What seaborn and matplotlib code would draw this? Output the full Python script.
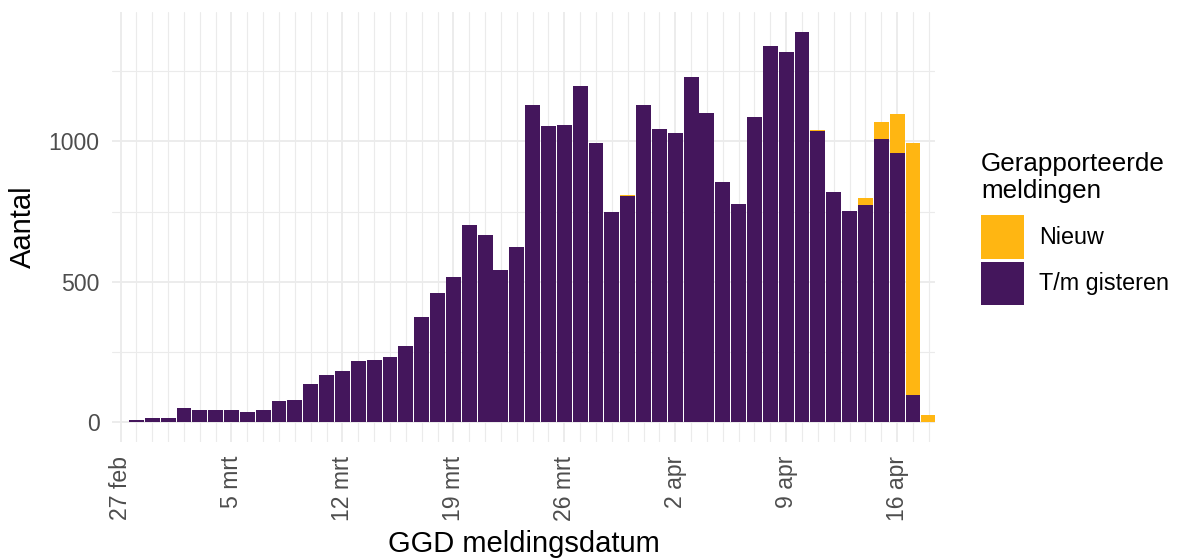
import numpy as np
import pandas as pd
import matplotlib
matplotlib.use("Agg")
import matplotlib.pyplot as plt
from matplotlib.patches import Patch
import seaborn as sns

# ---- data ----
dagen = pd.date_range("2020-02-27", "2020-04-18", freq="D")
tm_gisteren = [3, 7, 15, 15, 50, 43, 43, 43, 36, 46, 75, 79,
               138, 170, 184, 220, 223, 234, 273, 376, 461, 518, 702, 667, 543, 624,
               1128, 1053, 1057, 1195, 993, 748, 805, 1128, 1043, 1028, 1227, 1099, 855, 777, 1085,
               1340, 1316, 1387, 1035, 819, 752, 773, 1007, 957, 99, 0]
nieuw = [0, 0, 0, 0, 0, 0, 0, 0, 0, 0, 0, 0,
         0, 0, 0, 0, 0, 0, 0, 0, 0, 0, 0, 0, 0, 0,
         0, 0, 0, 0, 0, 0, 4, 0, 0, 0, 0, 0, 0, 0, 0,
         0, 0, 3, 4, 0, 0, 25, 60, 139, 894, 25]
tick_dates = ["2020-02-27", "2020-03-05", "2020-03-12", "2020-03-19",
              "2020-03-26", "2020-04-02", "2020-04-09", "2020-04-16"]
tick_labels = ["27 feb", "5 mrt", "12 mrt", "19 mrt", "26 mrt", "2 apr", "9 apr", "16 apr"]
y_major = [0, 500, 1000]
y_minor = [250, 750, 1250]
series_labels = ["Nieuw", "T/m gisteren"]
legend_title = "Gerapporteerde\nmeldingen"

C_NIEUW = "#FFB612"
C_OUD = "#44165C"
GRID = "#EBEBEB"

df = pd.DataFrame({
    "dag": dagen.strftime("%Y-%m-%d"),
    "tm_gisteren": tm_gisteren,
    "nieuw": nieuw,
})
df["totaal"] = df["tm_gisteren"] + df["nieuw"]

sns.set_theme(style="white")
plt.rcParams["font.family"] = ["Liberation Sans", "DejaVu Sans"]
plt.rcParams["text.color"] = "black"

fig = plt.figure(figsize=(11.77, 5.58), dpi=100)
W, H = 1177, 558
L, R, T, B = 112, 935, 12, 442
ax = fig.add_axes([L / W, 1 - B / H, (R - L) / W, (B - T) / H])

order = list(df["dag"])
sns.barplot(data=df, x="dag", y="totaal", order=order, color=C_NIEUW,
            saturation=1, width=0.94, linewidth=0, ax=ax)
sns.barplot(data=df, x="dag", y="tm_gisteren", order=order, color=C_OUD,
            saturation=1, width=0.94, linewidth=0, ax=ax)

# axes / scales
ax.set_xlim(-0.54, 51.39)
ax.set_ylim(-69.5, 1459.5)
pos = [order.index(d) for d in tick_dates]
ax.set_xticks(pos, labels=tick_labels)
ax.set_xticks([i for i in range(len(order)) if i not in pos], minor=True)
ax.set_yticks(y_major, labels=[str(v) for v in y_major])
ax.set_yticks(y_minor, minor=True)
ax.set_xlabel("")
ax.set_ylabel("")

ax.set_axisbelow(True)
ax.grid(which="major", color=GRID, linewidth=1.3)
ax.grid(which="minor", color=GRID, linewidth=0.8)
for s in ax.spines.values():
    s.set_visible(False)

ax.tick_params(axis="both", which="both", length=0)
ax.tick_params(axis="x", which="major", labelsize=16.6, labelcolor="#4D4D4D",
               rotation=90, pad=10)
ax.tick_params(axis="y", which="major", labelsize=16.6, labelcolor="#4D4D4D", pad=9)

# axis titles
fig.text((L + R) / 2 / W, 1 - 544 / H, "GGD meldingsdatum", ha="center", va="center",
         fontsize=21, color="black")
fig.text(22.5 / W, 1 - (T + B) / 2 / H, "Aantal", ha="center", va="center",
         rotation=90, fontsize=21, color="black")

# legend
handles = [Patch(facecolor=C_NIEUW, edgecolor="none"),
           Patch(facecolor=C_OUD, edgecolor="none")]
leg = fig.legend(handles, series_labels, title=legend_title,
                 loc="upper left", bbox_to_anchor=(981 / W, 1 - 152 / H),
                 bbox_transform=fig.transFigure, frameon=False,
                 fontsize=16.8, title_fontsize=18.7, borderpad=0, borderaxespad=0,
                 handlelength=1.85, handleheight=2.47, labelspacing=0.13,
                 handletextpad=0.64, alignment="left", labelcolor="black")
leg.get_title().set_linespacing(1.15)
leg.get_title().set_color("black")
leg._legend_box.sep = 9

fig.savefig("out.png", dpi=100)
